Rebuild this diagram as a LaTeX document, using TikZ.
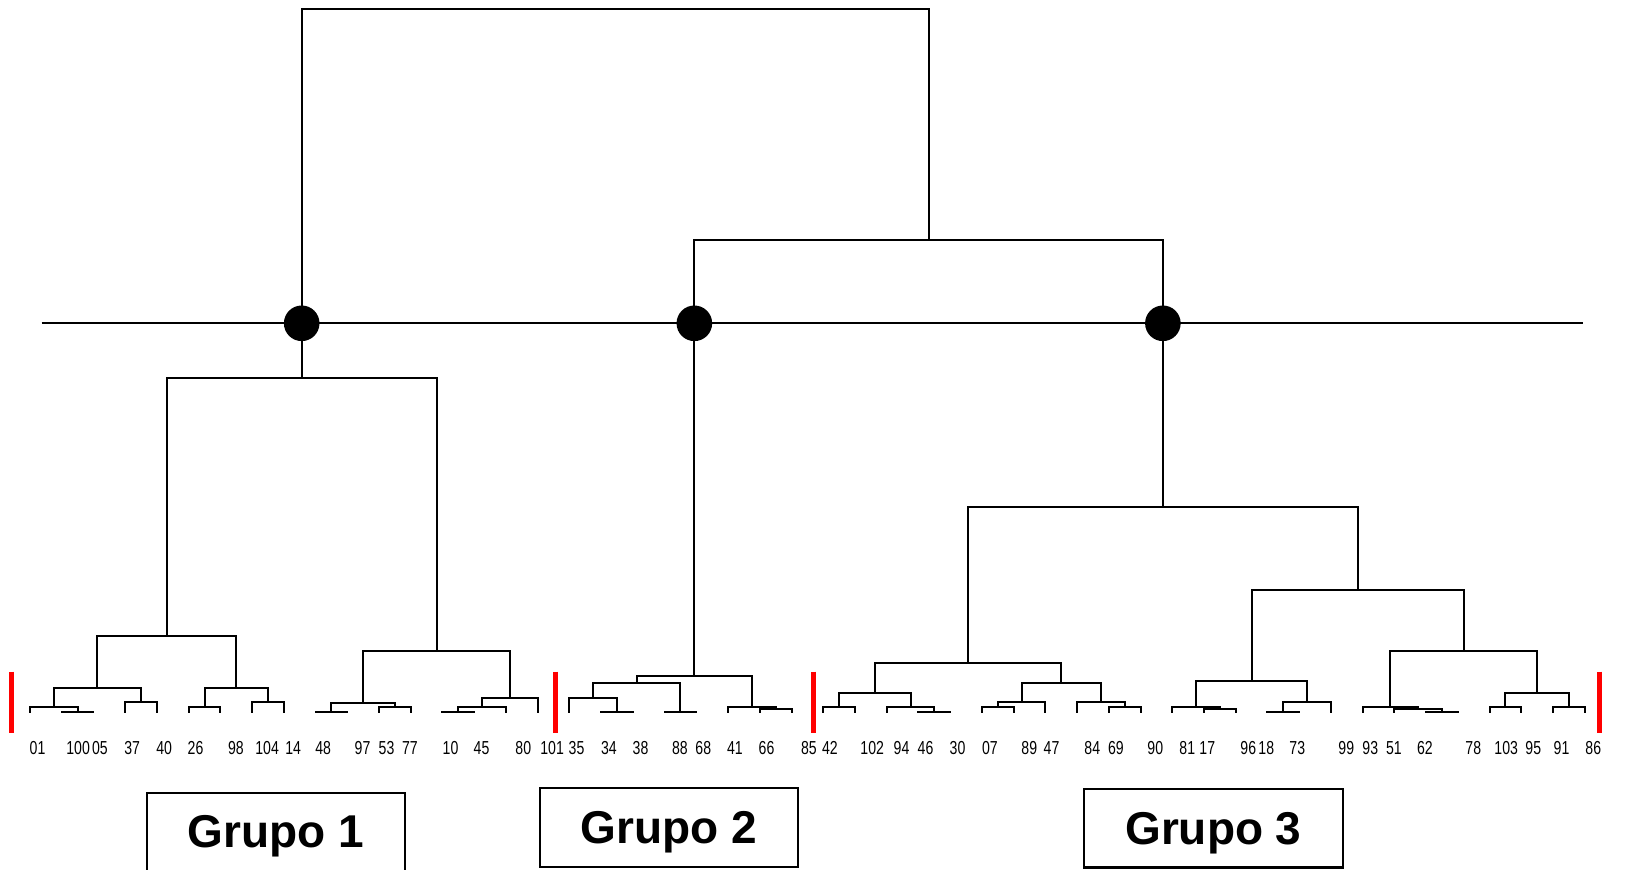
\documentclass[tikz,border=0pt]{standalone}
\usepackage{fontspec}
\setmainfont{Liberation Sans}
\newfontfamily\labfont[FakeStretch=0.75]{Liberation Sans}
\usepackage{tikz}
\usetikzlibrary{calc}
% join two branches (name, left, right, height)
\newcommand{\Mg}[4]{%
    \path ($(#2)!0.5!(#3)$) coordinate (#1m);
    \path (#1m |- 0,#4) coordinate (#1);
    \draw [link] (#2) |- (#1) -| (#3);
}

\begin{document}
\begin{tikzpicture}[x=0.5pt,y=-0.5pt,
        link/.style={line width=1pt},
        leaflab/.style={anchor=base west, inner sep=0pt, font=\labfont\fontsize{9.4}{10}\selectfont},
        redbar/.style={draw=red, line width=2.5pt},
        grpbox/.style={draw, line width=1.1pt, minimum width=129.3pt, minimum height=39.2pt,
            inner sep=0pt, text depth=0pt, font=\bfseries\fontsize{23}{26}\selectfont}]
            \useasboundingbox (0,0) rectangle (1625,870);

            % leaves and their labels
            \foreach \n/\lx [count=\i from 0] in {01/29.3,100/66,05/91.7,37/124,40/156,26/187.3,98/227.7,
                104/255,14/285,48/315,97/354.3,53/378.3,77/401.7,10/442.3,45/473.3,80/515,101/540,
                35/568.3,34/600.7,38/632.3,88/671.7,68/695,41/726.7,66/758.3,85/800.7,
                42/821.7,102/860,94/893.3,46/917.3,30/949.3,07/981.7,89/1021,47/1043.3,84/1084,
                69/1107.7,90/1147,81/1179,17/1199,96/1240,18/1258,73/1289,99/1338,
                93/1362,51/1385.7,62/1416.7,78/1465,103/1494,95/1525,91/1553.3,86/1585}{
            \path (30+31.73*\i,712.5) coordinate (L\n);
            \node [leaflab] (t\n) at (\lx,754) {\n};
            }

            % Grupo 1
            \Mg{a1}{L100}{L05}{711.7}
            \Mg{a2}{L01}{a1}{707.3}
            \Mg{a3}{L37}{L40}{701.7}
            \Mg{a4}{a2}{a3}{688}
            \Mg{a5}{L26}{L98}{707.3}
            \Mg{a6}{L104}{L14}{701.7}
            \Mg{a7}{a5}{a6}{688}
            \Mg{a8}{a4}{a7}{636}
            \Mg{a9}{L48}{L97}{711.7}
            \Mg{a10}{L53}{L77}{707.3}
            \Mg{a11}{a9}{a10}{702.7}
            \Mg{a12}{L10}{L45}{711.7}
            \Mg{a13}{a12}{L80}{707.3}
            \Mg{a14}{a13}{L101}{697.7}
            \Mg{a15}{a11}{a14}{651}
            \Mg{g1}{a8}{a15}{378}

            % Grupo 2
            \Mg{b1}{L34}{L38}{711.7}
            \Mg{b2}{L35}{b1}{698.3}
            \Mg{b3}{L88}{L68}{711.7}
            \Mg{b4}{b2}{b3}{683.3}
            \Mg{b5}{L66}{L85}{708.5}
            \Mg{b6}{L41}{b5}{707}
            \Mg{b7}{b4}{b6}{676}

            % Grupo 3
            \Mg{c1}{L42}{L102}{707.3}
            \Mg{c2}{L46}{L30}{711.7}
            \Mg{c3}{L94}{c2}{707.3}
            \Mg{c4}{c1}{c3}{692.7}
            \Mg{c5}{L07}{L89}{707.3}
            \Mg{c6}{c5}{L47}{701.7}
            \Mg{c7}{L69}{L90}{707.3}
            \Mg{c8}{L84}{c7}{701.7}
            \Mg{c9}{c6}{c8}{683.3}
            \Mg{c10}{c4}{c9}{662.7}
            \Mg{c11}{L17}{L96}{708.5}
            \Mg{c12}{L81}{c11}{707}
            \Mg{c13}{L18}{L73}{711.7}
            \Mg{c14}{c13}{L99}{701.7}
            \Mg{c15}{c12}{c14}{681}
            \Mg{c16}{L62}{L78}{711.7}
            \Mg{c17}{L51}{c16}{708.5}
            \Mg{c18}{L93}{c17}{707}
            \Mg{c19}{L103}{L95}{707.3}
            \Mg{c20}{L91}{L86}{707.3}
            \Mg{c21}{c19}{c20}{692.7}
            \Mg{c22}{c18}{c21}{651}
            \Mg{c23}{c15}{c22}{590}
            \Mg{c24}{c10}{c23}{507}

            % top of the tree
            \Mg{r1}{b7}{c24}{240}
            \Mg{r0}{g1}{r1}{9}

            % cut line and the three cut points
            \path (41.5,323.3) coordinate (cutL);
            \path (1583,323.3) coordinate (cutR);
            \draw [link] (cutL) -- (cutR);
            \foreach \c in {g1,b7,c24}{
            \fill (\c |- cutL) circle (8.9pt);
            }

            % red separators
            \foreach \x in {11.8,555.8,813.2,1599.2}{
            \draw [redbar] (\x,671.7) -- (\x,732.7);
            }

            % group boxes
            \node [grpbox] (G1) at (276,831.8) {Grupo 1};
            \node [grpbox] (G2) at (669,827.5) {Grupo 2};
            \node [grpbox] (G3) at (1213.4,828.2) {Grupo 3};

        \end{tikzpicture}
\end{document}
